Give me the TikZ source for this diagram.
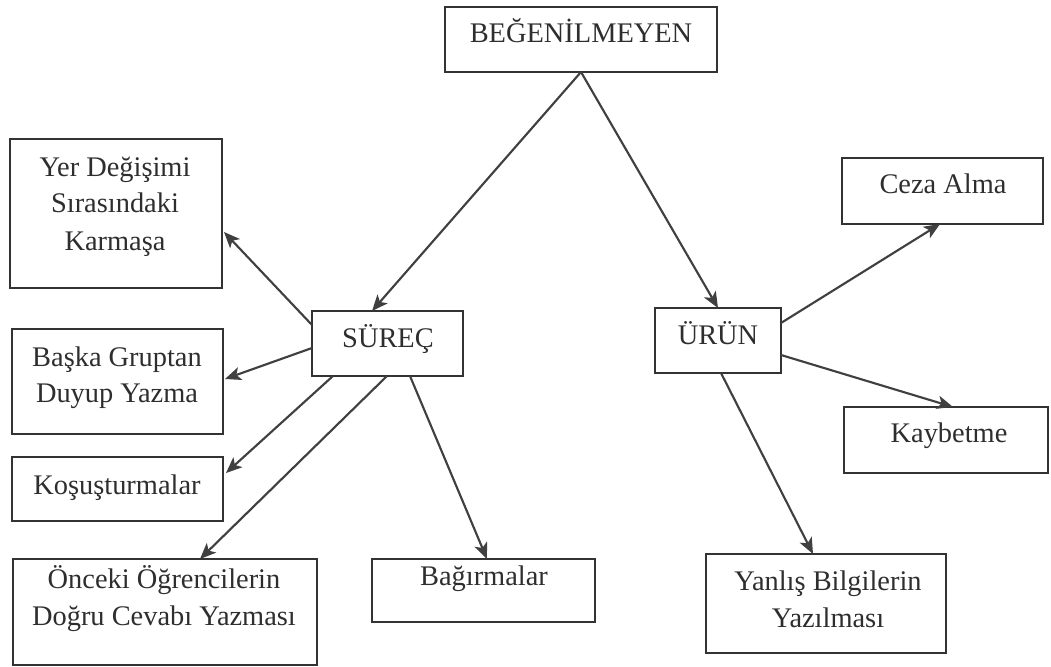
\documentclass[tikz,border=0pt]{standalone}
\usepackage{fontspec}
\setmainfont{Liberation Serif}
\usetikzlibrary{arrows.meta,calc}
\begin{document}
\begin{tikzpicture}[x=0.75pt,y=-0.75pt,
  box/.style={draw=black!80,line width=1.2pt,inner sep=0pt,outer sep=0pt,rectangle},
  lbl/.style={anchor=base,inner sep=0pt,text=black!82,font=\fontsize{21.3}{28}\selectfont},
  conn/.style={draw=black!75,line width=1.6pt,-{Stealth[length=12pt,width=10pt,inset=3pt]}}]
\useasboundingbox (0,0) rectangle (1051,667);
% boxes
\node[box,minimum width=204pt,minimum height=48.75pt] (beg) at (581,39.5) {};
\node[box,minimum width=159pt,minimum height=111.75pt] (yer) at (116,213.5) {};
\node[box,minimum width=113.25pt,minimum height=48.75pt] (sur) at (387.5,343.5) {};
\node[box,minimum width=158.25pt,minimum height=78.75pt] (bas) at (117.5,381.5) {};
\node[box,minimum width=158.25pt,minimum height=48pt] (kos) at (117.5,489) {};
\node[box,minimum width=228pt,minimum height=79.5pt] (onc) at (165,612) {};
\node[box,minimum width=167.25pt,minimum height=47.25pt] (bag) at (483.5,590.5) {};
\node[box,minimum width=94.5pt,minimum height=48.75pt] (uru) at (718,340.5) {};
\node[box,minimum width=153pt,minimum height=49.5pt] (kay) at (946,440) {};
\node[box,minimum width=180pt,minimum height=74.25pt] (yan) at (826,603.5) {};
\node[box,minimum width=150.75pt,minimum height=49.5pt] (cez) at (942.5,191) {};
% labels
\node[lbl] (tbeg) at (581,43) {BEĞENİLMEYEN};
\node[lbl] (tyer1) at (115,176) {Yer Değişimi};
\node[lbl] (tyer2) at (115,213) {Sırasındaki};
\node[lbl] (tyer3) at (115,250) {Karmaşa};
\node[lbl] (tsur) at (388,347) {SÜREÇ};
\node[lbl] (tbas1) at (117,366) {Başka Gruptan};
\node[lbl] (tbas2) at (117,402) {Duyup Yazma};
\node[lbl] (tkos) at (117,494) {Koşuşturmalar};
\node[lbl] (tonc1) at (164,588) {Önceki Öğrencilerin};
\node[lbl] (tonc2) at (164,625) {Doğru Cevabı Yazması};
\node[lbl] (tbag) at (484,585) {Bağırmalar};
\node[lbl] (turu) at (718,344) {ÜRÜN};
\node[lbl] (tkay) at (949,442) {Kaybetme};
\node[lbl] (tyan1) at (828,590) {Yanlış Bilgilerin};
\node[lbl] (tyan2) at (828,627) {Yazılması};
\node[lbl] (tcez) at (943,194) {Ceza Alma};
% connectors
\draw[conn] (beg.south) -- ($(sur.north)+(-15.5,0)$);
\draw[conn] (beg.south) -- (uru.north);
\draw[conn] ($(sur.north west)+(0,14)$) -- ($(yer.north east)+(2,93)$);
\draw[conn] ($(sur.north west)+(0,37)$) -- ($(bas.north east)+(2,50)$);
\draw[conn] ($(sur.south west)+(21,0)$) -- ($(kos.north east)+(3,16)$);
\draw[conn] ($(sur.south west)+(75,0)$) -- ($(onc.north west)+(187,0)$);
\draw[conn] ($(sur.south west)+(98,0)$) -- ($(bag.north west)+(115,0)$);
\draw[conn] ($(uru.north east)+(0,15)$) -- ($(cez.south west)+(98,0)$);
\draw[conn] ($(uru.north east)+(0,47)$) -- ($(kay.north west)+(109,0)$);
\draw[conn] ($(uru.south west)+(66,0)$) -- ($(yan.north west)+(107,0)$);
\end{tikzpicture}
\end{document}
